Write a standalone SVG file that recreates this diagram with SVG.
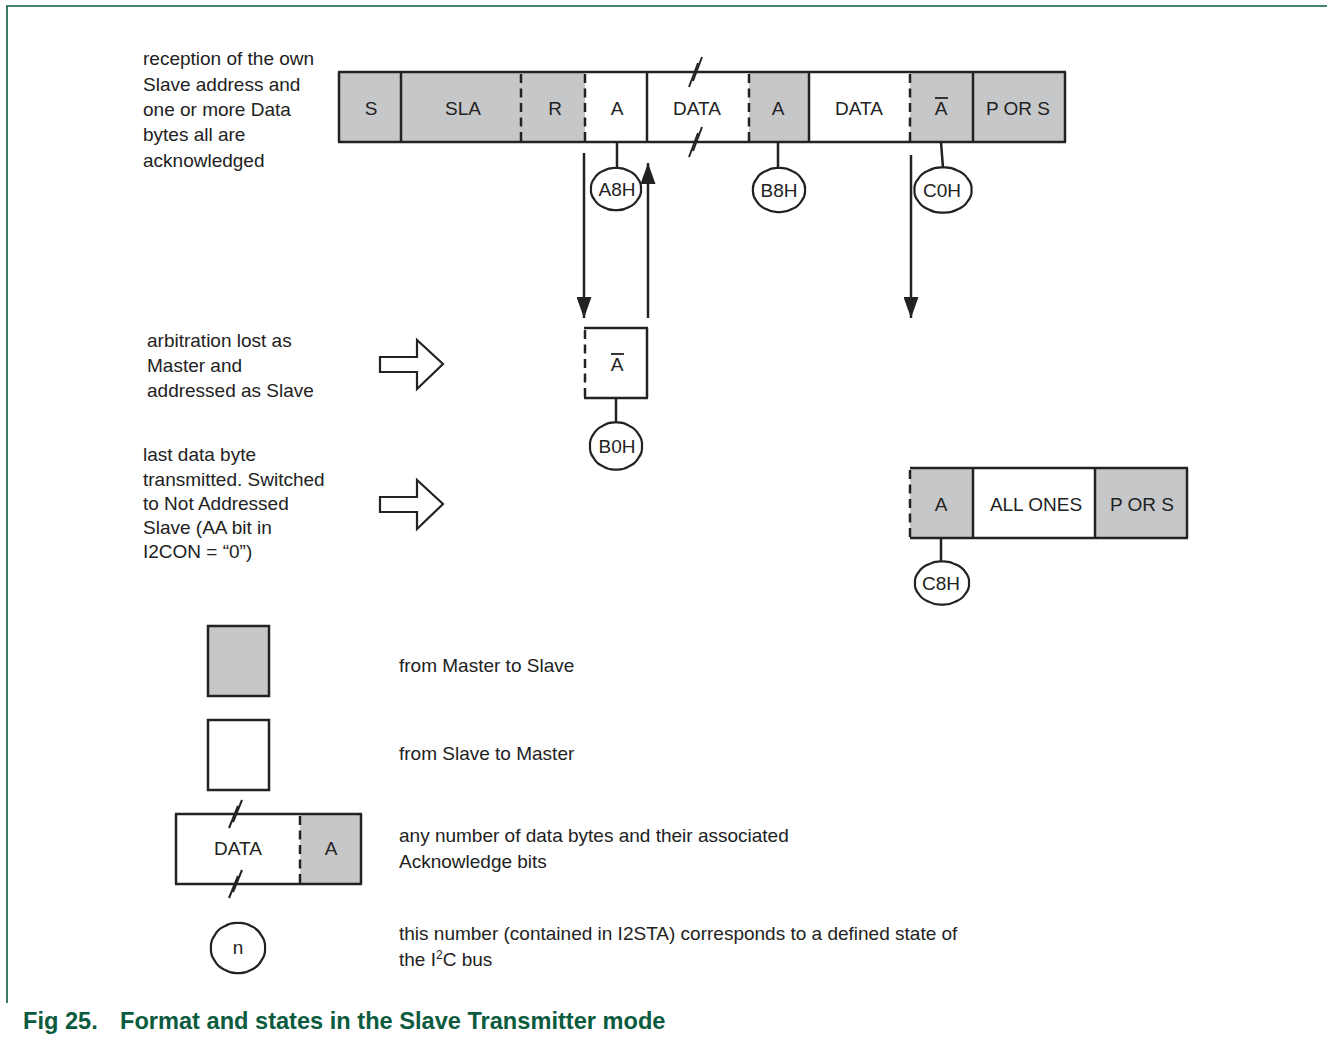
<svg xmlns="http://www.w3.org/2000/svg" xmlns:xlink="http://www.w3.org/1999/xlink" width="1327" height="1040" viewBox="0 0 1327 1040">
<style>
text{font-family:"Liberation Sans",Arial,sans-serif;font-size:19px;fill:#222}
.c{text-anchor:middle}
.g{fill:#c6c7c9;stroke:none}
.w{fill:#fff;stroke:none}
.ln{stroke:#222;stroke-width:2.5;fill:none}
.ds{stroke:#222;stroke-width:2.5;fill:none;stroke-dasharray:9 5.5}
.thin{stroke:#222;stroke-width:2;fill:none}
.wob{fill:#fff;stroke:#222;stroke-width:2.2;vector-effect:non-scaling-stroke}
.cap{font-weight:bold;font-size:23.6px;fill:#0b5b3e}
</style>
<defs>
<path id="wob" class="wob" d="M25,0 A19,19 0 0 1 21.65,12.5 A19,19 0 0 1 12.5,21.65 A19,19 0 0 1 0,25 A19,19 0 0 1 -12.5,21.65 A19,19 0 0 1 -21.65,12.5 A19,19 0 0 1 -25,0 A19,19 0 0 1 -21.65,-12.5 A19,19 0 0 1 -12.5,-21.65 A19,19 0 0 1 0,-25 A19,19 0 0 1 12.5,-21.65 A19,19 0 0 1 21.65,-12.5 A19,19 0 0 1 25,0 Z"/>
<marker id="ah" markerWidth="21" markerHeight="15" refX="21" refY="7.5" orient="auto" markerUnits="userSpaceOnUse" viewBox="0 0 21 15">
<path d="M0,0 L21,7.5 L0,15 Z" fill="#222"/>
</marker>
</defs>

<!-- frame -->
<g id="frame">
<path d="M7,1003 V6 H1327" fill="none" stroke="#0b5b3e" stroke-width="1.6"/>
</g>

<!-- left descriptions -->
<g id="desc1">
<text x="143" y="65">reception of the own</text>
<text x="143" y="91">Slave address and</text>
<text x="143" y="116">one or more Data</text>
<text x="143" y="141">bytes all are</text>
<text x="143" y="167">acknowledged</text>
</g>
<g id="desc2">
<text x="147" y="347">arbitration lost as</text>
<text x="147" y="372">Master and</text>
<text x="147" y="397">addressed as Slave</text>
</g>
<g id="desc3">
<text x="143" y="461">last data byte</text>
<text x="143" y="486">transmitted. Switched</text>
<text x="143" y="510">to Not Addressed</text>
<text x="143" y="534">Slave (AA bit in</text>
<text x="143" y="558">I2CON = “0”)</text>
</g>

<!-- hollow arrows -->
<g id="harrow1">
<path d="M380,357 H417 V340 L443,364 L417,389 V372 H380 Z" fill="#fff" stroke="#222" stroke-width="2.2" stroke-linejoin="miter"/>
</g>
<g id="harrow2">
<path d="M380,497 H417 V480 L443,504 L417,529 V512 H380 Z" fill="#fff" stroke="#222" stroke-width="2.2" stroke-linejoin="miter"/>
</g>

<!-- main frame bar -->
<g id="bar1">
<rect class="g" x="339" y="72" width="246" height="70"/>
<rect class="w" x="585" y="72" width="164" height="70"/>
<rect class="g" x="749" y="72" width="60" height="70"/>
<rect class="w" x="809" y="72" width="101" height="70"/>
<rect class="g" x="910" y="72" width="155" height="70"/>
<line class="ln" x1="338" y1="72" x2="1066" y2="72"/>
<line class="ln" x1="338" y1="142" x2="1066" y2="142"/>
<line class="ln" x1="339" y1="72" x2="339" y2="142"/>
<line class="ln" x1="401" y1="72" x2="401" y2="142"/>
<line class="ds" x1="521" y1="74" x2="521" y2="142"/>
<line class="ds" x1="585" y1="74" x2="585" y2="142"/>
<line class="ln" x1="647" y1="72" x2="647" y2="142"/>
<line class="ds" x1="749" y1="74" x2="749" y2="142"/>
<line class="ln" x1="809" y1="72" x2="809" y2="142"/>
<line class="ds" x1="910" y1="74" x2="910" y2="142"/>
<line class="ln" x1="973" y1="72" x2="973" y2="142"/>
<line class="ln" x1="1065" y1="72" x2="1065" y2="142"/>
<!-- break marks -->
<line class="thin" x1="689" y1="87" x2="698" y2="63"/>
<line class="thin" x1="693" y1="81" x2="702" y2="57"/>
<line class="thin" x1="689" y1="157" x2="698" y2="133"/>
<line class="thin" x1="693" y1="151" x2="702" y2="127"/>
<text class="c" x="371" y="115">S</text>
<text class="c" x="463" y="115">SLA</text>
<text class="c" x="555" y="115">R</text>
<text class="c" x="617" y="115">A</text>
<text class="c" x="697" y="115">DATA</text>
<text class="c" x="778" y="115">A</text>
<text class="c" x="859" y="115">DATA</text>
<text class="c" x="941" y="115">A</text>
<line x1="935" y1="98" x2="948" y2="98" stroke="#222" stroke-width="1.8"/>
<text class="c" x="1018" y="115">P OR S</text>
</g>

<!-- arbitration lost A-bar box -->
<g id="box2">
<rect class="w" x="585" y="328" width="62" height="70"/>
<line class="ln" x1="584" y1="328" x2="648" y2="328"/>
<line class="ln" x1="584" y1="398" x2="648" y2="398"/>
<line class="ln" x1="647" y1="328" x2="647" y2="398"/>
<line class="ds" x1="585" y1="330" x2="585" y2="398"/>
<text class="c" x="617" y="371">A</text>
<line x1="611" y1="354" x2="624" y2="354" stroke="#222" stroke-width="1.8"/>
</g>

<!-- second bar -->
<g id="bar3">
<rect class="g" x="910" y="468" width="63" height="70"/>
<rect class="w" x="973" y="468" width="122" height="70"/>
<rect class="g" x="1095" y="468" width="92" height="70"/>
<line class="ln" x1="910" y1="468" x2="1188" y2="468"/>
<line class="ln" x1="910" y1="538" x2="1188" y2="538"/>
<line class="ds" x1="910" y1="470" x2="910" y2="538"/>
<line class="ln" x1="973" y1="468" x2="973" y2="538"/>
<line class="ln" x1="1095" y1="468" x2="1095" y2="538"/>
<line class="ln" x1="1187" y1="468" x2="1187" y2="538"/>
<text class="c" x="941" y="511">A</text>
<text class="c" x="1036" y="511">ALL ONES</text>
<text class="c" x="1142" y="511">P OR S</text>
</g>

<!-- connectors -->
<g id="connectors">
<line class="ln" x1="584" y1="153" x2="584" y2="318" marker-end="url(#ah)"/>
<line class="ln" x1="648" y1="318" x2="648" y2="163" marker-end="url(#ah)"/>
<line class="ln" x1="911" y1="155" x2="911" y2="318" marker-end="url(#ah)"/>
<line class="ln" x1="617" y1="142" x2="617" y2="169"/>
<line class="ln" x1="778" y1="142" x2="778" y2="168"/>
<line class="ln" x1="941" y1="142" x2="943" y2="168"/>
<line class="ln" x1="616" y1="398" x2="616" y2="423"/>
<line class="ln" x1="941" y1="538" x2="941" y2="561"/>
</g>

<!-- state circles -->
<g id="sA8H"><use xlink:href="#wob" transform="translate(616,189) scale(1.0,0.84)"/><text class="c" x="617" y="196">A8H</text></g>
<g id="sB8H"><use xlink:href="#wob" transform="translate(779,190) scale(1.04,0.88)"/><text class="c" x="779" y="197">B8H</text></g>
<g id="sC0H"><use xlink:href="#wob" transform="translate(943,190) scale(1.14,0.9)"/><text class="c" x="942" y="197">C0H</text></g>
<g id="sB0H"><use xlink:href="#wob" transform="translate(616,446) scale(1.04,0.94)"/><text class="c" x="617" y="453">B0H</text></g>
<g id="sC8H"><use xlink:href="#wob" transform="translate(942,583) scale(1.08,0.86)"/><text class="c" x="941" y="590">C8H</text></g>

<!-- legend -->
<g id="legend-gray">
<rect x="208" y="626" width="61" height="70" fill="#c6c7c9" stroke="#222" stroke-width="2.5"/>
<text x="399" y="672">from Master to Slave</text>
</g>
<g id="legend-white">
<rect x="208" y="720" width="61" height="70" fill="#fff" stroke="#222" stroke-width="2.5"/>
<text x="399" y="760">from Slave to Master</text>
</g>
<g id="legend-data">
<rect class="g" x="300" y="814" width="61" height="70"/>
<line class="ln" x1="175" y1="814" x2="362" y2="814"/>
<line class="ln" x1="175" y1="884" x2="362" y2="884"/>
<line class="ln" x1="176" y1="814" x2="176" y2="884"/>
<line class="ln" x1="361" y1="814" x2="361" y2="884"/>
<line class="ds" x1="300" y1="816" x2="300" y2="884"/>
<line class="thin" x1="229" y1="828" x2="238" y2="806"/>
<line class="thin" x1="233" y1="822" x2="242" y2="800"/>
<line class="thin" x1="229" y1="898" x2="238" y2="876"/>
<line class="thin" x1="233" y1="892" x2="242" y2="870"/>
<text class="c" x="238" y="855">DATA</text>
<text class="c" x="331" y="855">A</text>
<text x="399" y="842">any number of data bytes and their associated</text>
<text x="399" y="868">Acknowledge bits</text>
</g>
<g id="legend-state">
<use xlink:href="#wob" transform="translate(238,948) scale(1.08,1.0)"/>
<text class="c" x="238" y="954">n</text>
<text x="399" y="940">this number (contained in I2STA) corresponds to a defined state of</text>
<text x="399" y="966">the I<tspan font-size="12" dy="-7">2</tspan><tspan dy="7">C bus</tspan></text>
</g>

<!-- caption -->
<g id="caption">
<text class="cap" x="23" y="1029">Fig 25.</text>
<text class="cap" x="120" y="1029">Format and states in the Slave Transmitter mode</text>
</g>
</svg>
